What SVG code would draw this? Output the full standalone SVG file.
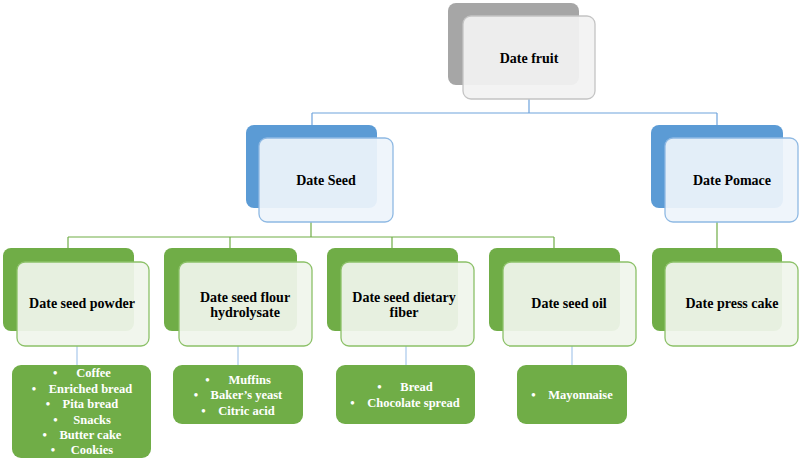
<svg xmlns="http://www.w3.org/2000/svg" width="800" height="461" viewBox="0 0 800 461">
<style>
text{font-family:"Liberation Serif","Times New Roman",serif;font-weight:bold;text-anchor:middle;white-space:pre;}
.t{font-size:14px;fill:#000;}
.l{font-size:12.5px;fill:#fff;}
.bg{fill:#a6a6a6;}
.fg{fill:#f2f2f2;fill-opacity:0.93;stroke:#c4c4c4;stroke-width:1.3;}
.bb{fill:#5b9bd5;}
.fb{fill:#eef4fb;fill-opacity:0.93;stroke:#8fb9e3;stroke-width:1.3;}
.gb{fill:#70ad47;}
.fgg{fill:#f0f5ec;fill-opacity:0.93;stroke:#8cc168;stroke-width:1.3;}
.lb{fill:#70ad47;}
.cb{stroke:#6ea3dc;stroke-width:1.2;fill:none;}
.cg{stroke:#70ad47;stroke-width:1.2;fill:none;}
.cl{stroke:#a9c8ec;stroke-width:1.2;fill:none;}
</style>
<g id="connectors">
<path class="cb" d="M529 99V113M312 113H717M312 113V125M717 113V125"/>
<path class="cg" d="M311 222V237M68 237H554M68 237V248M230 237V248M392 237V248M554 237V248M717 222V248"/>
<path class="cl" d="M77 346V365M238 346V365M406 346V365M572 346V365"/>
</g>
<g id="date-fruit">
<rect class="bg" x="448" y="3" width="131" height="82" rx="8"/>
<rect class="fg" x="463" y="16" width="132" height="83" rx="8"/>
<text class="t" x="529" y="63">Date fruit</text>
</g>
<g id="date-seed">
<rect class="bb" x="246" y="125" width="131" height="83" rx="8"/>
<rect class="fb" x="259" y="138" width="134" height="84" rx="8"/>
<text class="t" x="326" y="185">Date Seed</text>
</g>
<g id="date-pomace">
<rect class="bb" x="651" y="125" width="132" height="83" rx="8"/>
<rect class="fb" x="665" y="138" width="133" height="84" rx="8"/>
<text class="t" x="732" y="185">Date Pomace</text>
</g>
<g id="date-seed-powder">
<rect class="gb" x="3" y="248" width="131" height="83" rx="8"/>
<rect class="fgg" x="17" y="262" width="132" height="84" rx="8"/>
<text class="t" x="82" y="308">Date seed powder</text>
</g>
<g id="date-seed-flour-hydrolysate">
<rect class="gb" x="164" y="248" width="133" height="83" rx="8"/>
<rect class="fgg" x="179" y="262" width="133" height="84" rx="8"/>
<text class="t" x="245" y="302">Date seed flour</text>
<text class="t" x="245" y="317">hydrolysate</text>
</g>
<g id="date-seed-dietary-fiber">
<rect class="gb" x="327" y="248" width="131" height="83" rx="8"/>
<rect class="fgg" x="341" y="262" width="133" height="84" rx="8"/>
<text class="t" x="404" y="302">Date seed dietary</text>
<text class="t" x="404" y="317">fiber</text>
</g>
<g id="date-seed-oil">
<rect class="gb" x="489" y="248" width="131" height="83" rx="8"/>
<rect class="fgg" x="503" y="262" width="133" height="84" rx="8"/>
<text class="t" x="569" y="308">Date seed oil</text>
</g>
<g id="date-press-cake">
<rect class="gb" x="652" y="248" width="130" height="83" rx="8"/>
<rect class="fgg" x="665" y="262" width="133" height="84" rx="8"/>
<text class="t" x="732" y="308">Date press cake</text>
</g>
<g id="powder-uses">
<rect class="lb" x="12" y="365" width="139" height="93" rx="9"/>
<text class="l" x="82" y="377">•      Coffee</text>
<text class="l" x="82" y="393">•    Enriched bread</text>
<text class="l" x="82" y="408">•    Pita bread</text>
<text class="l" x="82" y="424">•     Snacks</text>
<text class="l" x="82" y="439">•    Butter cake</text>
<text class="l" x="82" y="454">•     Cookies</text>
</g>
<g id="hydrolysate-uses">
<rect class="lb" x="173" y="365" width="130" height="59" rx="9"/>
<text class="l" x="238" y="384">•      Muffins</text>
<text class="l" x="238" y="399">•    Baker’s yeast</text>
<text class="l" x="238" y="415">•    Citric acid</text>
</g>
<g id="fiber-uses">
<rect class="lb" x="336" y="365" width="139" height="59" rx="9"/>
<text class="l" x="405" y="391">•      Bread</text>
<text class="l" x="405" y="407">•    Chocolate spread</text>
</g>
<g id="oil-uses">
<rect class="lb" x="517" y="365" width="110" height="59" rx="9"/>
<text class="l" x="572" y="399">•    Mayonnaise</text>
</g>
</svg>
